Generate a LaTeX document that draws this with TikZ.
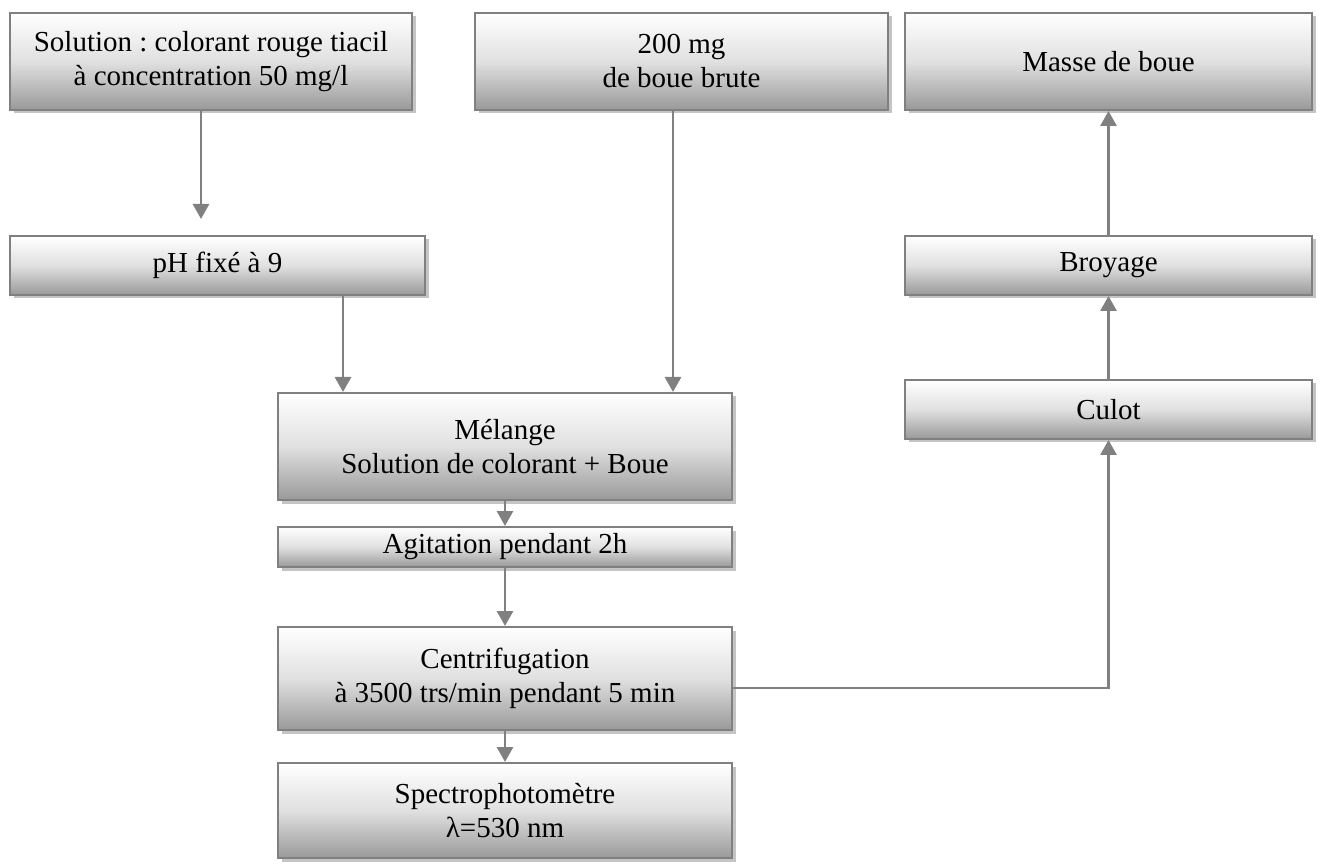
\documentclass[tikz,border=0pt]{standalone}
\usepackage{fontspec}
\setmainfont{Liberation Serif}
\frenchspacing
\usetikzlibrary{arrows.meta,shadows}
\definecolor{edgegray}{HTML}{808080}
\definecolor{shadegray}{HTML}{C4C4C4}
\tikzset{
  box/.style={draw=edgegray, line width=2pt, top color=white, bottom color=black!40,
    middle color=black!12, align=center, inner sep=0pt,
    font=\fontsize{29}{34}\selectfont,
    drop shadow={shadow xshift=3.5pt, shadow yshift=-3.5pt, fill=shadegray, opacity=1}},
  link/.style={draw=edgegray, line width=2.8pt,
    -{Triangle[width=16pt,length=15pt]}}
}
\begin{document}
\begin{tikzpicture}[x=1pt,y=-1pt]
\useasboundingbox (0,0) rectangle (1331,866);
% top row
\node[box, minimum width=402pt, minimum height=97pt] (sol) at (211,61.5)
  {Solution : colorant rouge tiacil\\à concentration 50 mg/l};
\node[box, minimum width=413pt, minimum height=97pt] (brute) at (681.5,61.5)
  {200 mg\\de boue brute};
\node[box, minimum width=407pt, minimum height=97pt] (masse) at (1108.5,61.5)
  {Masse de boue};
% second row
\node[box, minimum width=415pt, minimum height=59pt] (ph) at (217.5,265.5)
  {pH fixé à 9};
\node[box, minimum width=407pt, minimum height=59pt] (broy) at (1108.5,265.5)
  {Broyage};
\node[box, minimum width=407pt, minimum height=59pt] (culot) at (1108.5,409.5)
  {Culot};
% central column
\node[box, minimum width=454pt, minimum height=107pt] (mel) at (505,446.5)
  {Mélange\\Solution de colorant + Boue};
\node[box, minimum width=454pt, minimum height=40pt] (agit) at (505,547)
  {Agitation pendant 2h};
\node[box, minimum width=454pt, minimum height=103pt] (centri) at (505,678.5)
  {Centrifugation\\à 3500 trs/min pendant 5 min};
\node[box, minimum width=454pt, minimum height=95pt] (spec) at (505,810.5)
  {Spectrophotomètre\\λ=530 nm};
% connectors
\draw[link, shorten >=16pt] ([xshift=-10pt]sol.south) -- ([xshift=-10pt]sol.south |- ph.north);
\draw[link] ([xshift=125.5pt]ph.south) -- ([xshift=125.5pt]ph.south |- mel.north);
\draw[link] ([xshift=-8.5pt]brute.south) -- ([xshift=-8.5pt]brute.south |- mel.north);
\draw[link] (mel.south) -- (agit.north);
\draw[link] (agit.south) -- (centri.north);
\draw[link] (centri.south) -- (spec.north);
\draw[link] ([yshift=-9.5pt]centri.east) -| (culot.south);
\draw[link] (culot.north) -- (broy.south);
\draw[link] (broy.north) -- (masse.south);
\end{tikzpicture}
\end{document}
